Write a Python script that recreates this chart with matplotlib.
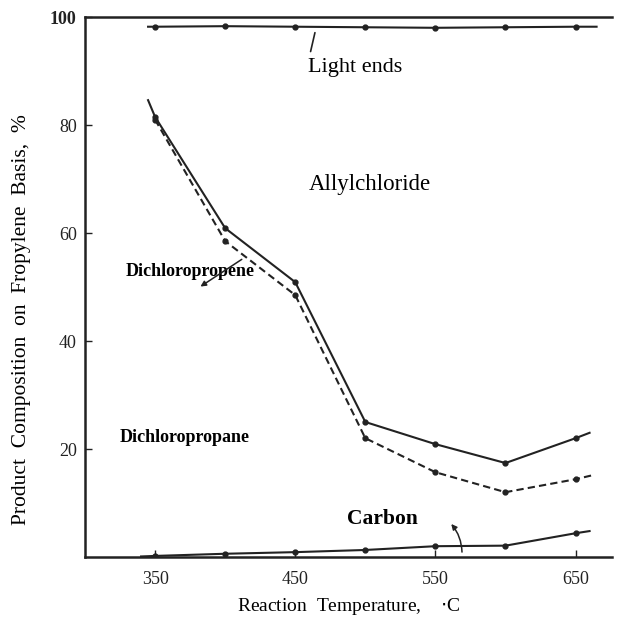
import matplotlib.pyplot as plt

temps = [350, 400, 450, 500, 550, 600, 650]
# curve ends drawn a little beyond the first / last data point
light_ends_x = [345, 665]
light_ends_y = [98.2, 98.2]
light_ends = [98.2, 98.3, 98.2, 98.1, 98.0, 98.1, 98.2]

allyl_x = [345, 350, 400, 450, 500, 550, 600, 650, 660]
allyl_y = [84.6, 81.5, 60.9, 50.9, 25.0, 20.9, 17.4, 22.0, 23.0]

dcp_x = [350, 400, 450, 500, 550, 600, 650, 663]
dcp_y = [81.0, 58.5, 48.5, 22.0, 15.7, 12.0, 14.4, 15.2]

carbon_x = [340, 350, 400, 450, 500, 550, 600, 650, 660]
carbon_y = [0.1, 0.2, 0.6, 0.9, 1.3, 2.0, 2.1, 4.4, 4.8]

yticks = [20, 40, 60, 80, 100]
xticks = [350, 450, 550, 650]

plt.rcParams['font.family'] = ['Liberation Serif', 'DejaVu Serif']

fig = plt.figure(figsize=(6.19, 6.29), dpi=100)
ax = fig.add_axes([85/619, 1-557/629, (612-85)/619, (557-17)/629])
ax.set_xlim(300, 676)
ax.set_ylim(0, 100)

lw = 1.5
ax.plot([light_ends_x[0]] + temps + [light_ends_x[1]],
        [light_ends_y[0]] + light_ends + [light_ends_y[1]], color='#222222', lw=lw)
ax.plot(temps, light_ends, 'o', color='#222222', ms=3.5)
ax.plot(allyl_x, allyl_y, color='#222222', lw=lw)
ax.plot(allyl_x[1:-1], allyl_y[1:-1], 'o', color='#222222', ms=3.5)
ax.plot(dcp_x, dcp_y, color='#222222', lw=lw, ls=(0, (3.5, 2)))
ax.plot(dcp_x[:-1], dcp_y[:-1], 'o', color='#222222', ms=3.5)
ax.plot(carbon_x, carbon_y, color='#222222', lw=lw)
ax.plot(carbon_x[1:-1], carbon_y[1:-1], 'o', color='#222222', ms=3.5)

for s in ['left', 'bottom', 'top']:
    ax.spines[s].set_linewidth(1.8)
    ax.spines[s].set_color('#222222')
ax.spines['right'].set_visible(False)

ax.set_yticks(yticks)
ax.set_yticklabels([str(v) for v in yticks], fontsize=13)
ax.get_yticklabels()[-1].set_fontweight('bold')
ax.set_xticks(xticks)
ax.set_xticklabels([str(v) for v in xticks], fontsize=13)
ax.tick_params(axis='y', direction='in', length=5, width=1, colors='#222222', pad=6)
ax.tick_params(axis='x', direction='in', length=5, width=1, colors='#222222', pad=10)

ax.set_xlabel('Reaction  Temperature,    $\\cdot$C', fontsize=14, labelpad=6)
ax.set_ylabel('Product  Composition  on  Fropylene  Basis,  %', fontsize=15.5)
ax.yaxis.set_label_coords(-0.102, 0.44)

ax.text(493, 90.6, 'Light ends', fontsize=16, ha='center', va='center')
ax.annotate('', xy=(464.5, 97.6), xytext=(460.5, 93.1),
            arrowprops=dict(arrowstyle='-', color='#222222', lw=1.2))
ax.text(503, 68.9, 'Allylchloride', fontsize=16.5, ha='center', va='center')
ax.text(375, 52.8, 'Dichloropropene', fontsize=13, ha='center', va='center', fontweight='bold')
ax.annotate('', xy=(380.7, 49.8), xytext=(413.5, 55.4),
            arrowprops=dict(arrowstyle='-|>', color='#222222', lw=1.1, mutation_scale=8))
ax.text(371, 22.2, 'Dichloropropane', fontsize=13, ha='center', va='center', fontweight='bold')
ax.text(512, 7.0, 'Carbon', fontsize=15.5, ha='center', va='center', fontweight='bold')
ax.annotate('', xy=(560, 6.5), xytext=(569, 0.4),
            arrowprops=dict(arrowstyle='-|>', color='#222222', lw=1.1, mutation_scale=8,
                            connectionstyle='arc3,rad=0.2'))

fig.savefig('out.png', dpi=100)
